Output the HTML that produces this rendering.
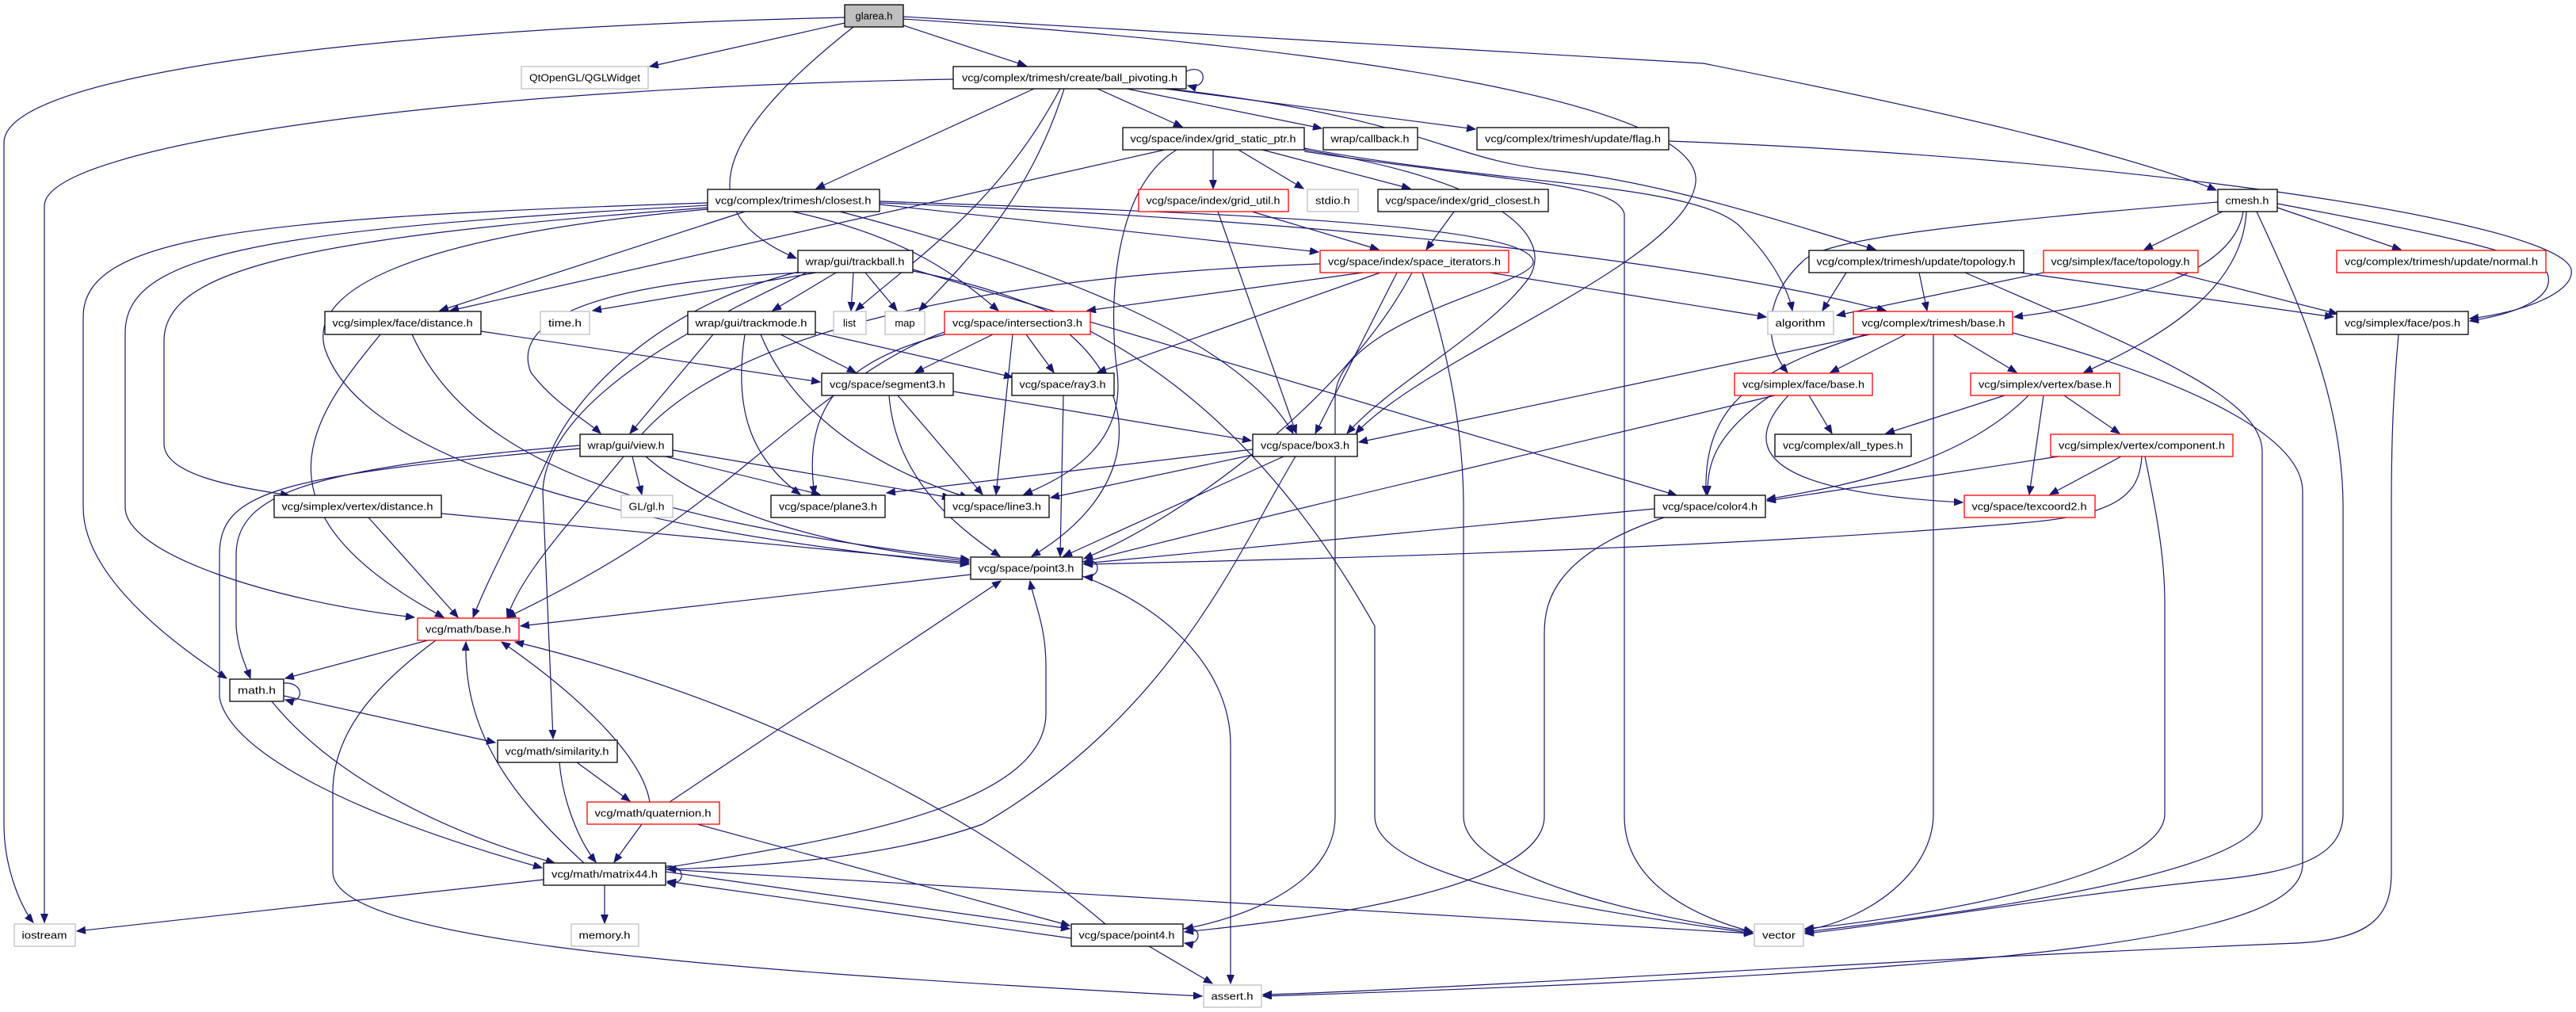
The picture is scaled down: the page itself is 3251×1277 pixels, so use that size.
<!DOCTYPE html>
<html><head><meta charset="utf-8"><style>
html,body{margin:0;padding:0;background:#fff;}
svg{display:block;}
text{font-family:"Liberation Sans","DejaVu Sans",sans-serif;font-size:13px;fill:#000;}
.e{fill:none;stroke:#191970;stroke-width:1.2;marker-end:url(#a);}
.n{fill:#fff;stroke:#000;stroke-width:1.3;}
.r{fill:#fff;stroke:#ff0000;stroke-width:1.3;}
.g{fill:#fff;stroke:#bfbfbf;stroke-width:1.3;}
</style></head><body>
<svg width="3251" height="1277" viewBox="0 0 3251 1277" xmlns="http://www.w3.org/2000/svg">
<defs><marker id="a" markerUnits="userSpaceOnUse" markerWidth="12" markerHeight="10" refX="11" refY="4.5" orient="auto"><path d="M0,0 L11,4.5 L0,9 z" fill="#191970" stroke="#191970"/></marker></defs>
<g>
<!-- glarea -->
<path class="e" d="M1066,22 C500,35 5,90 5,180 L5,1040 C5,1100 30,1150 42,1164"/>
<path class="e" d="M1066,29 L820,84"/>
<path class="e" d="M1077,34 C930,150 850,260 1005,326"/>
<path class="e" d="M1140,32 L1295,83"/>
<path class="e" d="M1140,21 L2150,80 C2500,150 2700,200 2797,240"/>
<path class="e" d="M1140,24 C1700,60 2150,130 2140,230 C2130,330 1800,450 1711,547"/>
<!-- ball -->
<path class="e" d="M1497,90 C1525,78 1525,115 1499,108"/>
<path class="e" d="M1203,100 C600,110 56,180 56,260 L56,1164"/>
<path class="e" d="M1305,112 L1030,238"/>
<path class="e" d="M1338,112 C1260,260 1150,330 1080,392"/>
<path class="e" d="M1343,112 C1300,250 1220,330 1160,392"/>
<path class="e" d="M1385,112 L1492,160"/>
<path class="e" d="M1422,112 L1668,162"/>
<path class="e" d="M1470,112 L1862,163"/>
<path class="e" d="M1475,112 C1800,150 1820,200 1960,215 C2100,230 2250,280 2367,315"/>
<!-- grid_static -->
<path class="e" d="M1470,189 L568,392"/>
<path class="e" d="M1485,189 C1400,240 1400,400 1410,470 C1420,560 1350,600 1292,624"/>
<path class="e" d="M1531,189 L1531,238"/>
<path class="e" d="M1563,189 L1645,238"/>
<path class="e" d="M1593,189 L1780,238"/>
<path class="e" d="M1646,189 C1900,230 1960,300 1930,350 C1880,420 1760,480 1700,547"/>
<path class="e" d="M1646,191 C1900,230 2040,230 2050,270 L2050,1030 C2050,1120 2150,1160 2212,1176"/>
<path class="e" d="M1646,187 C1900,235 2150,230 2200,290 C2240,330 2258,370 2262,392"/>
<!-- closest -->
<path class="e" d="M940,267 L555,392"/>
<path class="e" d="M893,256 C300,275 105,300 105,400 L105,640 C105,720 200,800 286,856"/>
<path class="e" d="M893,259 C330,290 158,320 158,420 L158,640 C158,700 350,760 523,779"/>
<path class="e" d="M893,262 C380,300 207,340 207,430 L207,560 C207,600 300,615 365,625"/>
<path class="e" d="M893,264 C500,300 390,370 410,440 C450,560 700,660 1223,712"/>
<path class="e" d="M1000,267 C1150,300 1210,350 1260,392"/>
<path class="e" d="M1060,267 C1300,330 1560,420 1632,547"/>
<path class="e" d="M1110,258 L1664,318"/>
<path class="e" d="M1110,256 C1600,275 2100,320 2380,392"/>
<path class="e" d="M1110,254 C1500,268 1930,280 1935,330 C1940,360 1690,400 1685,500 L1685,1030 C1685,1120 1560,1160 1495,1172"/>
<!-- trackball -->
<path class="e" d="M1030,344 L748,392"/>
<path class="e" d="M1055,344 L975,392"/>
<path class="e" d="M1077,344 L1074,392"/>
<path class="e" d="M1092,344 L1132,392"/>
<path class="e" d="M1010,344 C700,360 650,420 670,470 C700,510 740,530 758,547"/>
<path class="e" d="M1012,342 C850,380 740,480 700,560 C660,650 620,720 597,779"/>
<path class="e" d="M1018,344 C900,400 690,500 685,620 L698,932"/>
<path class="e" d="M1152,340 L2116,625"/>
<path class="e" d="M1152,342 C1350,380 1560,480 1735,790 L1735,1030 C1735,1120 2100,1160 2212,1178"/>
<!-- space_it -->
<path class="e" d="M1666,333 C1200,350 900,430 800,560 C720,660 660,720 640,779"/>
<path class="e" d="M1720,344 L1372,392"/>
<path class="e" d="M1742,344 L1385,470"/>
<path class="e" d="M1763,344 L1660,547"/>
<path class="e" d="M1782,344 C1700,500 1500,650 1368,705"/>
<path class="e" d="M1795,344 C1830,450 1847,550 1847,640 L1847,1030 C1847,1110 2100,1160 2212,1176"/>
<path class="e" d="M1880,344 L2229,400"/>
<!-- grid_util / grid_closest -->
<path class="e" d="M1580,267 L1740,315"/>
<path class="e" d="M1537,267 L1636,547"/>
<path class="e" d="M1835,267 L1800,315"/>
<!-- flag -->
<path class="e" d="M2106,178 C2700,200 3230,280 3245,340 C3250,370 3180,395 3117,402"/>
<!-- cmesh -->
<path class="e" d="M2799,255 C2500,280 2300,300 2275,330 C2220,380 2230,440 2256,470"/>
<path class="e" d="M2805,267 L2706,315"/>
<path class="e" d="M2831,267 C2820,340 2700,380 2542,400"/>
<path class="e" d="M2835,267 C2830,360 2740,420 2630,470"/>
<path class="e" d="M2874,262 L3030,315"/>
<path class="e" d="M2874,257 C3050,290 3200,320 3215,345 C3225,375 3180,395 3117,405"/>
<path class="e" d="M2848,267 C2900,380 2957,500 2957,640 L2957,1027 C2957,1080 2900,1100 2800,1110 C2600,1130 2400,1165 2278,1178"/>
<!-- upd_topo -->
<path class="e" d="M2330,344 L2300,392"/>
<path class="e" d="M2422,344 L2432,392"/>
<path class="e" d="M2550,344 L2945,400"/>
<path class="e" d="M2480,344 C2700,440 2855,500 2855,570 L2855,1027 C2855,1100 2500,1150 2278,1176"/>
<!-- face_topo -->
<path class="e" d="M2579,344 L2318,398"/>
<path class="e" d="M2745,344 L2950,396"/>
<!-- tri_base -->
<path class="e" d="M2405,422 L2310,470"/>
<path class="e" d="M2465,422 L2545,470"/>
<path class="e" d="M2360,422 L1715,558"/>
<path class="e" d="M2355,422 C2200,470 2150,520 2153,624"/>
<path class="e" d="M2440,422 L2440,1027 C2440,1100 2360,1160 2278,1174"/>
<path class="e" d="M2540,420 C2800,490 2906,560 2906,620 L2906,1090 C2906,1180 2600,1225 1594,1257"/>
<!-- face_base / vert_base / component -->
<path class="e" d="M2240,499 C1900,580 1600,650 1368,709"/>
<path class="e" d="M2235,499 C2160,550 2155,590 2155,624"/>
<path class="e" d="M2257,499 C2200,560 2210,620 2477,634"/>
<path class="e" d="M2283,499 L2312,547"/>
<path class="e" d="M2560,499 C2480,580 2350,610 2230,630"/>
<path class="e" d="M2530,499 L2380,547"/>
<path class="e" d="M2605,499 L2675,547"/>
<path class="e" d="M2579,499 L2561,624"/>
<path class="e" d="M2598,576 L2230,632"/>
<path class="e" d="M2677,576 L2587,624"/>
<path class="e" d="M2703,576 C2700,620 2680,650 2550,660 C2200,690 1700,705 1368,712"/>
<path class="e" d="M2707,576 C2720,640 2732,700 2732,760 L2732,1027 C2732,1110 2400,1160 2278,1172"/>
<!-- color4 -->
<path class="e" d="M2088,642 L1368,711"/>
<path class="e" d="M2100,653 C1960,700 1949,760 1949,800 L1949,1030 C1949,1130 1600,1165 1495,1176"/>
<!-- pos -->
<path class="e" d="M3027,422 C3020,500 3018,560 3018,640 L3018,1100 C3018,1150 3000,1185 2900,1190 C2400,1210 1800,1250 1594,1255"/>
<!-- inter3 -->
<path class="e" d="M1253,422 L1155,470"/>
<path class="e" d="M1295,422 L1330,470"/>
<path class="e" d="M1278,422 L1257,624"/>
<path class="e" d="M1350,422 C1440,500 1440,620 1302,702"/>
<path class="e" d="M1200,420 C1080,450 1010,500 1028,624"/>
<path class="e" d="M1195,418 C1100,450 1000,540 900,620 C800,700 700,750 640,779"/>
<!-- trackmode -->
<path class="e" d="M900,422 L795,547"/>
<path class="e" d="M985,422 L1080,470"/>
<path class="e" d="M940,422 C925,520 950,580 1010,624"/>
<path class="e" d="M960,422 C1000,520 1100,590 1222,628"/>
<path class="e" d="M1029,419 L1278,476"/>
<!-- face_dist -->
<path class="e" d="M607,418 L1035,482"/>
<path class="e" d="M480,422 C400,520 300,640 560,779"/>
<path class="e" d="M520,422 C600,600 850,660 1223,706"/>
<!-- segment3 / ray3 -->
<path class="e" d="M1203,494 L1579,556"/>
<path class="e" d="M1133,499 L1240,624"/>
<path class="e" d="M1122,499 C1130,600 1200,660 1262,702"/>
<path class="e" d="M1342,499 L1338,702"/>
<!-- view -->
<path class="e" d="M798,576 L810,624"/>
<path class="e" d="M840,576 L1035,624"/>
<path class="e" d="M849,568 L1200,628"/>
<path class="e" d="M815,576 C900,650 1050,690 1223,708"/>
<path class="e" d="M732,562 C400,590 298,620 298,700 L298,790 C300,820 310,840 316,856"/>
<path class="e" d="M732,566 C350,600 277,620 277,700 L277,880 C290,950 450,1030 684,1095"/>
<!-- box3 -->
<path class="e" d="M1581,567 L1119,622"/>
<path class="e" d="M1581,574 L1326,628"/>
<path class="e" d="M1620,576 L1342,702"/>
<path class="e" d="M1635,576 C1560,700 1480,900 1240,1040 C1100,1090 900,1095 842,1097"/>
<!-- vert_dist -->
<path class="e" d="M465,653 L578,779"/>
<path class="e" d="M557,648 L1223,710"/>
<!-- point3 -->
<path class="e" d="M1366,709 C1390,700 1392,730 1368,728"/>
<path class="e" d="M1225,725 L657,790"/>
<path class="e" d="M1366,727 C1480,770 1553,850 1553,940 L1553,1241"/>
<!-- math_base -->
<path class="e" d="M540,808 L360,856"/>
<path class="e" d="M550,808 C480,860 420,920 420,1000 L420,1100 C420,1180 800,1220 1517,1257"/>
<!-- math -->
<path class="e" d="M358,862 C385,860 385,890 360,883"/>
<path class="e" d="M358,878 L625,937"/>
<path class="e" d="M343,885 C420,980 560,1050 700,1089"/>
<!-- similarity / quaternion -->
<path class="e" d="M728,962 L795,1011"/>
<path class="e" d="M706,962 C710,1010 730,1060 752,1088"/>
<path class="e" d="M810,1040 L775,1088"/>
<path class="e" d="M820,1012 C810,950 720,870 633,810"/>
<path class="e" d="M845,1012 L1263,733"/>
<path class="e" d="M880,1040 L1350,1168"/>
<!-- matrix44 -->
<path class="e" d="M840,1093 C865,1090 868,1118 842,1114"/>
<path class="e" d="M686,1110 L97,1175"/>
<path class="e" d="M763,1117 L763,1165"/>
<path class="e" d="M737,1089 C640,1000 585,920 588,810"/>
<path class="e" d="M840,1095 C1050,1060 1320,1020 1320,900 L1320,840 C1320,790 1305,760 1300,733"/>
<path class="e" d="M840,1100 L1350,1172"/>
<path class="e" d="M840,1097 L2212,1178"/>
<!-- point4 -->
<path class="e" d="M1493,1172 C1518,1165 1518,1195 1495,1190"/>
<path class="e" d="M1450,1194 L1530,1241"/>
<path class="e" d="M1395,1166 C1200,1000 900,870 650,810"/>
<path class="e" d="M1352,1184 L842,1112"/>
</g>
<g>
<rect x="1066" y="6" width="74" height="28" fill="#bfbfbf" stroke="#000" stroke-width="1.3"/><text x="1103" y="24.5" text-anchor="middle">glarea.h</text>
<rect class="g" x="658" y="84" width="160" height="28"/><text x="738" y="102.5" text-anchor="middle" textLength="140" lengthAdjust="spacingAndGlyphs">QtOpenGL/QGLWidget</text>
<rect class="n" x="1203" y="84" width="294" height="28"/><text x="1350" y="102.5" text-anchor="middle" textLength="272" lengthAdjust="spacingAndGlyphs">vcg/complex/trimesh/create/ball_pivoting.h</text>
<rect class="n" x="1417" y="161" width="229" height="28"/><text x="1531" y="179.5" text-anchor="middle" textLength="209" lengthAdjust="spacingAndGlyphs">vcg/space/index/grid_static_ptr.h</text>
<rect class="n" x="1670" y="161" width="119" height="28"/><text x="1729" y="179.5" text-anchor="middle" textLength="99" lengthAdjust="spacingAndGlyphs">wrap/callback.h</text>
<rect class="n" x="1864" y="161" width="242" height="28"/><text x="1985" y="179.5" text-anchor="middle" textLength="222" lengthAdjust="spacingAndGlyphs">vcg/complex/trimesh/update/flag.h</text>
<rect class="n" x="893" y="239" width="217" height="28"/><text x="1001" y="257.5" text-anchor="middle" textLength="197" lengthAdjust="spacingAndGlyphs">vcg/complex/trimesh/closest.h</text>
<rect class="r" x="1437" y="239" width="189" height="28"/><text x="1531" y="257.5" text-anchor="middle" textLength="169" lengthAdjust="spacingAndGlyphs">vcg/space/index/grid_util.h</text>
<rect class="g" x="1650" y="239" width="64" height="28"/><text x="1682" y="257.5" text-anchor="middle" textLength="44" lengthAdjust="spacingAndGlyphs">stdio.h</text>
<rect class="n" x="1739" y="239" width="215" height="28"/><text x="1846" y="257.5" text-anchor="middle" textLength="195" lengthAdjust="spacingAndGlyphs">vcg/space/index/grid_closest.h</text>
<rect class="n" x="2799" y="239" width="75" height="28"/><text x="2836" y="257.5" text-anchor="middle" textLength="55" lengthAdjust="spacingAndGlyphs">cmesh.h</text>
<rect class="n" x="1007" y="316" width="145" height="28"/><text x="1079" y="334.5" text-anchor="middle" textLength="125" lengthAdjust="spacingAndGlyphs">wrap/gui/trackball.h</text>
<rect class="r" x="1666" y="316" width="238" height="28"/><text x="1785" y="334.5" text-anchor="middle" textLength="218" lengthAdjust="spacingAndGlyphs">vcg/space/index/space_iterators.h</text>
<rect class="n" x="2283" y="316" width="271" height="28"/><text x="2418" y="334.5" text-anchor="middle" textLength="251" lengthAdjust="spacingAndGlyphs">vcg/complex/trimesh/update/topology.h</text>
<rect class="r" x="2579" y="316" width="195" height="28"/><text x="2676" y="334.5" text-anchor="middle" textLength="175" lengthAdjust="spacingAndGlyphs">vcg/simplex/face/topology.h</text>
<rect class="r" x="2949" y="316" width="264" height="28"/><text x="3081" y="334.5" text-anchor="middle" textLength="244" lengthAdjust="spacingAndGlyphs">vcg/complex/trimesh/update/normal.h</text>
<rect class="n" x="410" y="393" width="197" height="29"/><text x="508" y="412" text-anchor="middle" textLength="177" lengthAdjust="spacingAndGlyphs">vcg/simplex/face/distance.h</text>
<rect class="g" x="682" y="393" width="62" height="29"/><text x="713" y="412" text-anchor="middle" textLength="42" lengthAdjust="spacingAndGlyphs">time.h</text>
<rect class="n" x="868" y="393" width="161" height="29"/><text x="948" y="412" text-anchor="middle" textLength="141" lengthAdjust="spacingAndGlyphs">wrap/gui/trackmode.h</text>
<rect class="g" x="1052" y="393" width="41" height="29"/><text x="1072" y="412" text-anchor="middle">list</text>
<rect class="g" x="1117" y="393" width="50" height="29"/><text x="1142" y="412" text-anchor="middle">map</text>
<rect class="r" x="1192" y="393" width="184" height="29"/><text x="1284" y="412" text-anchor="middle" textLength="164" lengthAdjust="spacingAndGlyphs">vcg/space/intersection3.h</text>
<rect class="g" x="2231" y="393" width="83" height="29"/><text x="2272" y="412" text-anchor="middle" textLength="63" lengthAdjust="spacingAndGlyphs">algorithm</text>
<rect class="r" x="2339" y="393" width="201" height="29"/><text x="2440" y="412" text-anchor="middle" textLength="181" lengthAdjust="spacingAndGlyphs">vcg/complex/trimesh/base.h</text>
<rect class="n" x="2949" y="393" width="166" height="29"/><text x="3032" y="412" text-anchor="middle" textLength="146" lengthAdjust="spacingAndGlyphs">vcg/simplex/face/pos.h</text>
<rect class="n" x="1037" y="471" width="166" height="28"/><text x="1120" y="489.5" text-anchor="middle" textLength="146" lengthAdjust="spacingAndGlyphs">vcg/space/segment3.h</text>
<rect class="n" x="1277" y="471" width="129" height="28"/><text x="1341" y="489.5" text-anchor="middle" textLength="109" lengthAdjust="spacingAndGlyphs">vcg/space/ray3.h</text>
<rect class="r" x="2189" y="471" width="174" height="28"/><text x="2276" y="489.5" text-anchor="middle" textLength="154" lengthAdjust="spacingAndGlyphs">vcg/simplex/face/base.h</text>
<rect class="r" x="2487" y="471" width="188" height="28"/><text x="2581" y="489.5" text-anchor="middle" textLength="168" lengthAdjust="spacingAndGlyphs">vcg/simplex/vertex/base.h</text>
<rect class="n" x="732" y="548" width="117" height="28"/><text x="790" y="566.5" text-anchor="middle" textLength="97" lengthAdjust="spacingAndGlyphs">wrap/gui/view.h</text>
<rect class="n" x="1581" y="548" width="132" height="28"/><text x="1647" y="566.5" text-anchor="middle" textLength="112" lengthAdjust="spacingAndGlyphs">vcg/space/box3.h</text>
<rect class="n" x="2240" y="548" width="172" height="28"/><text x="2326" y="566.5" text-anchor="middle" textLength="152" lengthAdjust="spacingAndGlyphs">vcg/complex/all_types.h</text>
<rect class="r" x="2588" y="548" width="230" height="28"/><text x="2703" y="566.5" text-anchor="middle" textLength="210" lengthAdjust="spacingAndGlyphs">vcg/simplex/vertex/component.h</text>
<rect class="n" x="346" y="625" width="211" height="28"/><text x="451" y="643.5" text-anchor="middle" textLength="191" lengthAdjust="spacingAndGlyphs">vcg/simplex/vertex/distance.h</text>
<rect class="g" x="784" y="625" width="65" height="28"/><text x="816" y="643.5" text-anchor="middle" textLength="45" lengthAdjust="spacingAndGlyphs">GL/gl.h</text>
<rect class="n" x="973" y="625" width="144" height="28"/><text x="1045" y="643.5" text-anchor="middle" textLength="124" lengthAdjust="spacingAndGlyphs">vcg/space/plane3.h</text>
<rect class="n" x="1192" y="625" width="132" height="28"/><text x="1258" y="643.5" text-anchor="middle" textLength="112" lengthAdjust="spacingAndGlyphs">vcg/space/line3.h</text>
<rect class="n" x="2088" y="625" width="140" height="28"/><text x="2158" y="643.5" text-anchor="middle" textLength="120" lengthAdjust="spacingAndGlyphs">vcg/space/color4.h</text>
<rect class="r" x="2479" y="625" width="165" height="28"/><text x="2561" y="643.5" text-anchor="middle" textLength="145" lengthAdjust="spacingAndGlyphs">vcg/space/texcoord2.h</text>
<rect class="n" x="1225" y="703" width="141" height="28"/><text x="1295" y="721.5" text-anchor="middle" textLength="121" lengthAdjust="spacingAndGlyphs">vcg/space/point3.h</text>
<rect class="r" x="527" y="780" width="128" height="28"/><text x="591" y="798.5" text-anchor="middle" textLength="108" lengthAdjust="spacingAndGlyphs">vcg/math/base.h</text>
<rect class="n" x="290" y="857" width="68" height="28"/><text x="324" y="875.5" text-anchor="middle" textLength="48" lengthAdjust="spacingAndGlyphs">math.h</text>
<rect class="n" x="628" y="934" width="151" height="28"/><text x="703" y="952.5" text-anchor="middle" textLength="131" lengthAdjust="spacingAndGlyphs">vcg/math/similarity.h</text>
<rect class="r" x="741" y="1012" width="167" height="28"/><text x="824" y="1030.5" text-anchor="middle" textLength="147" lengthAdjust="spacingAndGlyphs">vcg/math/quaternion.h</text>
<rect class="n" x="686" y="1089" width="154" height="28"/><text x="763" y="1107.5" text-anchor="middle" textLength="134" lengthAdjust="spacingAndGlyphs">vcg/math/matrix44.h</text>
<rect class="g" x="18" y="1166" width="77" height="28"/><text x="56" y="1184.5" text-anchor="middle" textLength="57" lengthAdjust="spacingAndGlyphs">iostream</text>
<rect class="g" x="721" y="1166" width="85" height="28"/><text x="763" y="1184.5" text-anchor="middle" textLength="65" lengthAdjust="spacingAndGlyphs">memory.h</text>
<rect class="n" x="1352" y="1166" width="141" height="28"/><text x="1422" y="1184.5" text-anchor="middle" textLength="121" lengthAdjust="spacingAndGlyphs">vcg/space/point4.h</text>
<rect class="g" x="2214" y="1166" width="62" height="28"/><text x="2245" y="1184.5" text-anchor="middle" textLength="42" lengthAdjust="spacingAndGlyphs">vector</text>
<rect class="g" x="1519" y="1243" width="73" height="28"/><text x="1555" y="1261.5" text-anchor="middle" textLength="53" lengthAdjust="spacingAndGlyphs">assert.h</text>
</g>
</svg>
</body></html>
